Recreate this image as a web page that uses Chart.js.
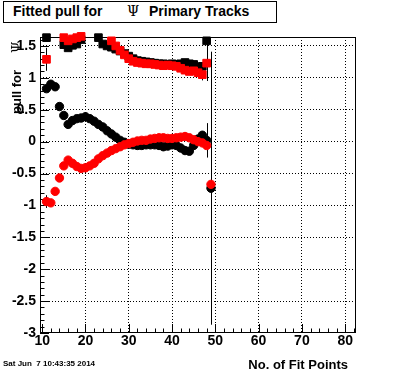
<!DOCTYPE html>
<html>
<head>
<meta charset="utf-8">
<script src="https://cdn.jsdelivr.net/npm/chart.js@4.4.1/dist/chart.umd.min.js"></script>
<style>
  html, body { margin: 0; padding: 0; background: #fff; }
  #wrap { position: relative; width: 396px; height: 372px; overflow: hidden;
          font-family: "Liberation Sans", Arial, sans-serif; color: #000; }
  #wrap canvas { position: absolute; left: 0; top: 0; }
  .title { position: absolute; left: 3px; top: 1px; width: 272px; height: 20px;
           border: 1px solid #000; background: #fff; font-weight: bold; font-size: 14px; }
  .title span { position: absolute; top: 2px; white-space: pre; line-height: 14px; }
  .psi { font-family: "DejaVu Serif", "Liberation Serif", serif; font-weight: normal !important; }
  .stamp { position: absolute; left: 3px; top: 360px; font-size: 8px; font-weight: bold;
           white-space: pre; line-height: 8px; }
  .xtitle { position: absolute; right: 48px; top: 358px; font-size: 13px; font-weight: bold;
            line-height: 13px; white-space: pre; }
  .ytitle { position: absolute; left: 10px; top: 114px; font-size: 13px; font-weight: bold;
            line-height: 13px; white-space: pre; transform-origin: 0 0; transform: rotate(-90deg); }
  .ytitle .psi { margin-left: 17px; font-size: 13px; }
</style>
</head>
<body>
<div id="wrap">
  <canvas id="c" width="396" height="372"></canvas>
  <div class="title">
    <span style="left:9px">Fitted pull for</span>
    <span class="psi" style="left:123px">Ψ</span>
    <span style="left:145px">Primary Tracks</span>
  </div>
  <div class="ytitle">pull for<span class="psi">Ψ</span></div>
  <div class="xtitle">No. of Fit Points</div>
  <div class="stamp">Sat Jun  7 10:43:35 2014</div>
</div>
<script>
// bin centres (number of fit points)
const fitPoints = [11, 12, 13, 14, 15, 16, 17, 18, 19, 20,
                   21, 22, 23, 24, 25, 26, 27, 28, 29, 30,
                   31, 32, 33, 34, 35, 36, 37, 38, 39, 40,
                   41, 42, 43, 44, 45, 46, 47, 48, 49];

// mean of the pull (circles)
const meanBlack = [0.83, 0.90, 0.86, 0.55, 0.41, 0.27, 0.33, 0.36, 0.37, 0.39,
                   0.36, 0.32, 0.27, 0.23, 0.17, 0.12, 0.07, 0.02, -0.01, -0.04,
                   -0.05, -0.06, -0.06, -0.05, -0.05, -0.05, -0.06, -0.08, -0.07, -0.05,
                   -0.06, -0.10, -0.14, -0.15, -0.06, 0.04, 0.10, 0.02, -0.73];
const meanRed = [-0.94, -0.96, -0.78, -0.57, -0.38, -0.29, -0.34, -0.39, -0.42, -0.41,
                 -0.38, -0.34, -0.27, -0.22, -0.18, -0.14, -0.11, -0.08, -0.05, -0.03,
                 -0.01, 0.01, 0.02, 0.02, 0.04, 0.05, 0.06, 0.06, 0.05, 0.05,
                 0.06, 0.07, 0.08, 0.06, 0.03, 0.00, -0.02, -0.06, -0.67];

// width of the pull (squares); null = off the top of the frame
const sigmaBlack = [1.63, null, null, null, 1.52, 1.47, 1.51, 1.53, 1.60, null,
                    null, null, 1.63, 1.53, 1.50, 1.48, 1.45, 1.42, 1.38, 1.34,
                    1.30, 1.27, 1.26, 1.25, 1.24, 1.23, 1.22, 1.22, 1.21, 1.22,
                    1.21, 1.22, 1.24, 1.22, 1.21, 1.17, 1.18, 1.58, null];
const sigmaRed = [1.29, null, null, null, 1.63, 1.58, 1.61, 1.63, 1.65, null,
                  null, null, null, null, null, 1.58, 1.50, 1.43, 1.36, 1.30,
                  1.26, 1.24, 1.23, 1.22, 1.22, 1.21, 1.20, 1.19, 1.20, 1.19,
                  1.18, 1.15, 1.12, 1.10, 1.11, 1.08, 1.05, 1.23, null];

// error bars that stick out of the markers
const errMeanBlack = [0, 0, 0, 0, 0, 0, 0, 0, 0, 0, 0, 0, 0, 0, 0, 0, 0, 0, 0, 0,
                      0, 0, 0, 0, 0, 0, 0, 0, 0, 0, 0, 0, 0, 0, 0, 0, 0, 0.27, 2.14];
const errMeanRed = [0.10, 0, 0, 0, 0, 0, 0, 0, 0, 0, 0, 0, 0, 0, 0, 0, 0, 0, 0, 0,
                    0, 0, 0, 0, 0, 0, 0, 0, 0, 0, 0, 0, 0, 0, 0, 0, 0, 0, 0];
const errSigmaBlack = [0, 0, 0, 0, 0, 0, 0, 0, 0, 0, 0, 0, 0, 0, 0, 0, 0, 0, 0, 0,
                       0, 0, 0, 0, 0, 0, 0, 0, 0, 0, 0, 0, 0, 0, 0, 0, 0, 0.63, 0];
const errSigmaRed = [0.18, 0, 0, 0, 0, 0, 0, 0, 0, 0, 0, 0, 0, 0, 0, 0, 0, 0, 0, 0,
                     0, 0, 0, 0, 0, 0, 0, 0, 0, 0, 0, 0, 0, 0, 0, 0, 0.09, 0, 0];

const xTicks = [10, 20, 30, 40, 50, 60, 70, 80];
const yTicks = [-3, -2.5, -2, -1.5, -1, -0.5, 0, 0.5, 1, 1.5];

const X_MIN = 9.5, X_MAX = 82.5, Y_MIN = -3, Y_MAX = 1.64;
const tickFont = { family: 'Liberation Sans', size: 14, weight: 'bold' };

const toPoints = vals => fitPoints.map((x, i) => ({ x: x, y: vals[i] }));

function series(label, vals, errs, color, style, radius, order) {
  return {
    label: label,
    data: toPoints(vals),
    errors: errs,
    pointStyle: style,
    pointRadius: radius,
    pointHoverRadius: radius,
    backgroundColor: color,
    borderColor: color,
    borderWidth: 1,
    showLine: false,
    clip: false,
    order: order
  };
}

// error bars, drawn under the markers
const errorBars = {
  id: 'errorBars',
  beforeDatasetsDraw(chart) {
    const { ctx, chartArea: a, scales: { x, y } } = chart;
    ctx.save();
    ctx.beginPath();
    ctx.rect(a.left, a.top, a.right - a.left, a.bottom - a.top);
    ctx.clip();
    ctx.strokeStyle = '#000';
    ctx.lineWidth = 1;
    chart.data.datasets.forEach(ds => {
      ds.data.forEach((p, i) => {
        const e = ds.errors[i];
        if (!e || p.y == null) return;
        const px = Math.round(x.getPixelForValue(p.x)) + 0.5;
        ctx.beginPath();
        ctx.moveTo(px, y.getPixelForValue(p.y - e));
        ctx.lineTo(px, y.getPixelForValue(p.y + e));
        ctx.stroke();
      });
    });
    ctx.restore();
  }
};

// ROOT style frame with inward ticks
const frame = {
  id: 'frame',
  beforeDatasetsDraw(chart) {
    const { ctx, chartArea: a, scales: { x, y } } = chart;
    ctx.save();
    ctx.strokeStyle = '#000';
    ctx.lineWidth = 1;
    ctx.strokeRect(a.left + 0.5, a.top + 0.5, a.right - a.left - 1, a.bottom - a.top - 1);
    ctx.beginPath();
    for (let k = 5; k <= 41; k++) {
      const v = k * 2;
      const px = Math.round(x.getPixelForValue(v)) + 0.5;
      const len = v % 10 === 0 ? 9 : 4.5;
      ctx.moveTo(px, a.bottom);
      ctx.lineTo(px, a.bottom - len);
    }
    for (let k = -30; k <= 16; k++) {
      const py = Math.round(y.getPixelForValue(k / 10)) + 0.5;
      const len = k % 5 === 0 ? 9 : 4.5;
      ctx.moveTo(a.left, py);
      ctx.lineTo(a.left + len, py);
    }
    ctx.stroke();
    ctx.restore();
  }
};

const hideEdge = edge => c => (c.tick && c.tick.value === edge) ? 'rgba(0,0,0,0)' : '#000';

new Chart(document.getElementById('c'), {
  type: 'scatter',
  data: {
    datasets: [
      series('sigma red', sigmaRed, errSigmaRed, '#ff0000', 'rect', 5.4, 0),
      series('mean red', meanRed, errMeanRed, '#ff0000', 'circle', 4.2, 0),
      series('sigma black', sigmaBlack, errSigmaBlack, '#000000', 'rect', 5.4, 1),
      series('mean black', meanBlack, errMeanBlack, '#000000', 'circle', 4.2, 1)
    ]
  },
  options: {
    responsive: false,
    animation: false,
    devicePixelRatio: 1,
    layout: { padding: { left: 0, top: 37, right: 40, bottom: 0 } },
    plugins: { legend: { display: false }, tooltip: { enabled: false } },
    scales: {
      x: {
        type: 'linear',
        min: X_MIN,
        max: X_MAX,
        afterBuildTicks: s => { s.ticks = xTicks.map(v => ({ value: v })); },
        afterFit: s => { s.height = 39; },
        grid: { color: hideEdge(10), lineWidth: 1, drawTicks: false },
        border: { display: false, dash: [1, 2] },
        ticks: { font: tickFont, color: '#000', padding: 0, maxRotation: 0, autoSkip: false,
                 callback: v => String(v) }
      },
      y: {
        type: 'linear',
        min: Y_MIN,
        max: Y_MAX,
        afterBuildTicks: s => { s.ticks = yTicks.map(v => ({ value: v })); },
        afterFit: s => { s.width = 40; },
        grid: { color: hideEdge(-3), lineWidth: 1, drawTicks: false },
        border: { display: false, dash: [1, 2] },
        ticks: { font: tickFont, color: '#000', padding: 4, autoSkip: false,
                 callback: v => String(v) }
      }
    }
  },
  plugins: [errorBars, frame]
});
</script>
</body>
</html>
